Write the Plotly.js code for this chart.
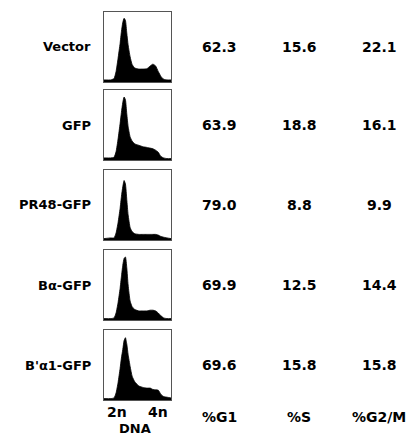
<!DOCTYPE html>
<html>
<head>
<meta charset="utf-8">
<script src="https://cdn.plot.ly/plotly-3.0.1.min.js"></script>
<style>html,body{margin:0;padding:0;background:#fff;}#chart{width:415px;height:437px;}</style>
</head>
<body>
<div id="chart"></div>
<script>
// ---- data ----
const samples = ["Vector", "GFP", "PR48-GFP", "Bα-GFP", "B'α1-GFP"];
const pctG1 = ["62.3", "63.9", "79.0", "69.9", "69.6"];
const pctS = ["15.6", "18.8", "8.8", "12.5", "15.8"];
const pctG2M = ["22.1", "16.1", "9.9", "14.4", "15.8"];
const columnHeaders = ["%G1", "%S", "%G2/M"];
const dnaTicks = ["2n", "4n"];
const dnaAxisTitle = "DNA";

// DNA content axis (relative channel) and cell-count profiles (relative)
const dnaX = [0, 10, 15, 18, 21, 24, 26, 28, 30, 32, 34, 36, 39, 42, 46, 52, 58, 64, 69, 73, 77, 81, 85, 89, 94, 100];
const histVector = [0.03, 0.03, 0.05, 0.15, 0.34, 0.55, 0.72, 0.85, 0.91, 0.88, 0.70, 0.53, 0.36, 0.25, 0.20, 0.185, 0.185, 0.19, 0.23, 0.255, 0.23, 0.15, 0.08, 0.04, 0.03, 0.03];
const histGFP = [0.03, 0.03, 0.04, 0.12, 0.30, 0.52, 0.68, 0.82, 0.90, 0.86, 0.66, 0.48, 0.33, 0.27, 0.23, 0.21, 0.19, 0.18, 0.17, 0.16, 0.14, 0.11, 0.05, 0.03, 0.02, 0.02];
const histPR48 = [0.02, 0.03, 0.03, 0.10, 0.25, 0.45, 0.62, 0.76, 0.85, 0.80, 0.58, 0.36, 0.18, 0.12, 0.09, 0.08, 0.08, 0.08, 0.08, 0.08, 0.08, 0.07, 0.05, 0.04, 0.03, 0.02];
const histBa = [0.02, 0.02, 0.03, 0.10, 0.25, 0.45, 0.62, 0.78, 0.88, 0.90, 0.75, 0.50, 0.27, 0.19, 0.15, 0.13, 0.13, 0.13, 0.14, 0.14, 0.13, 0.10, 0.06, 0.03, 0.02, 0.02];
const histBpa1 = [0.02, 0.02, 0.03, 0.10, 0.25, 0.45, 0.60, 0.72, 0.85, 0.89, 0.80, 0.65, 0.48, 0.34, 0.26, 0.20, 0.18, 0.17, 0.17, 0.15, 0.145, 0.14, 0.08, 0.05, 0.04, 0.03];
const histograms = [histVector, histGFP, histPR48, histBa, histBpa1];

// ---- layout helpers (pixel geometry) ----
const W = 415, H = 437;
const px = x => x / W;
const py = y => 1 - y / H;
const boxLeft = 104, boxRight = 171;
const boxTops = [12, 90, 170, 250, 330];
const boxH = 70;
const colX = [219, 299, 379];
const FONT = "DejaVu Sans";

const traces = [];
const layout = {
  width: W, height: H,
  margin: {l: 0, r: 0, t: 0, b: 0},
  paper_bgcolor: "#fff", plot_bgcolor: "#fff",
  showlegend: false,
  font: {family: FONT, size: 14, color: "#000"},
  annotations: []
};

histograms.forEach((h, i) => {
  const n = i + 1;
  const xa = n === 1 ? "x" : "x" + n;
  const ya = n === 1 ? "y" : "y" + n;
  traces.push({
    type: "scatter", mode: "lines", x: dnaX, y: h,
    xaxis: xa, yaxis: ya,
    fill: "tozeroy", fillcolor: "#000",
    line: {color: "#000", width: 0.8, shape: "spline", smoothing: 0.5},
    hoverinfo: "skip"
  });
  const axCommon = {showline: true, mirror: true, linecolor: "#555", linewidth: 1,
    showgrid: false, zeroline: false, showticklabels: false, ticks: "", fixedrange: true};
  layout[n === 1 ? "xaxis" : "xaxis" + n] = Object.assign({}, axCommon, {
    domain: [px(boxLeft), px(boxRight)], range: [0, 100], anchor: ya
  });
  const top = boxTops[i];
  layout[n === 1 ? "yaxis" : "yaxis" + n] = Object.assign({}, axCommon, {
    domain: [py(top + boxH), py(top)], range: [0, 1], anchor: xa
  });
  const cy = top + boxH / 2;
  layout.annotations.push({xref: "paper", yref: "paper", x: px(93), y: py(cy),
    xanchor: "right", yanchor: "middle", showarrow: false,
    text: "<b>" + samples[i] + "</b>", font: {family: FONT, size: 13}});
  [pctG1[i], pctS[i], pctG2M[i]].forEach((v, j) => {
    layout.annotations.push({xref: "paper", yref: "paper", x: px(colX[j]), y: py(cy),
      xanchor: "center", yanchor: "middle", showarrow: false,
      text: "<b>" + v + "</b>", font: {family: FONT, size: 14}});
  });
});

columnHeaders.forEach((t, j) => {
  layout.annotations.push({xref: "paper", yref: "paper", x: px(colX[j]), y: py(417),
    xanchor: "center", yanchor: "middle", showarrow: false,
    text: "<b>" + t + "</b>", font: {family: FONT, size: 14}});
});
const tickPx = [116.5, 157.5];
dnaTicks.forEach((t, j) => {
  layout.annotations.push({xref: "paper", yref: "paper", x: px(tickPx[j]), y: py(412),
    xanchor: "center", yanchor: "middle", showarrow: false,
    text: "<b>" + t + "</b>", font: {family: FONT, size: 14}});
});
layout.annotations.push({xref: "paper", yref: "paper", x: px(135), y: py(428),
  xanchor: "center", yanchor: "middle", showarrow: false,
  text: "<b>" + dnaAxisTitle + "</b>", font: {family: FONT, size: 13}});

Plotly.newPlot("chart", traces, layout, {displayModeBar: false, staticPlot: true});
</script>
</body>
</html>
